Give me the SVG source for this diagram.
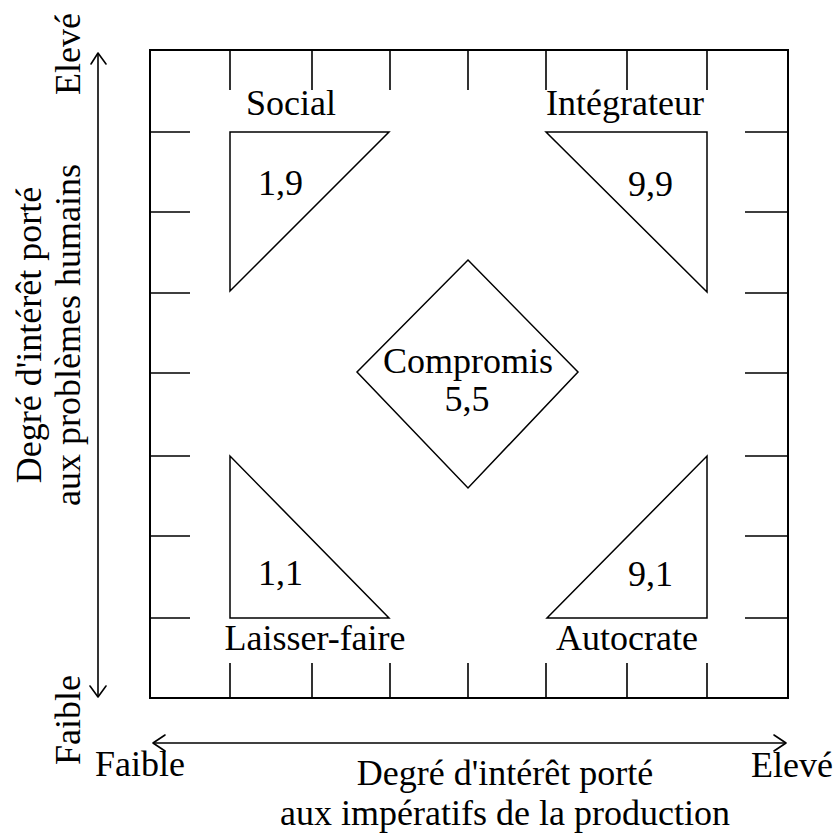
<svg xmlns="http://www.w3.org/2000/svg" width="838" height="835" viewBox="0 0 838 835">
<style>
  .t { font-family: "Liberation Serif", "Times New Roman", serif; font-size: 36px; fill: #000; }
  .m { text-anchor: middle; }
  .ln { stroke: #000; stroke-width: 1.6; fill: none; }
  .frame { stroke: #000; stroke-width: 2; fill: none; }
  .shape { stroke: #000; stroke-width: 1.5; fill: #fff; stroke-linejoin: miter; }
  .arr { stroke: #000; stroke-width: 1.6; fill: none; stroke-linecap: round; stroke-linejoin: round; }
</style>
<rect width="838" height="835" fill="#fff"/>

<g id="grid">
  <rect class="frame" x="150" y="50" width="638" height="648"/>
  <g class="ln">
    <path d="M230 50V90M312 50V90M390 50V90M468 50V90M546 50V90M627 50V90M707 50V90"/>
    <path d="M230 663V698M312 663V698M390 663V698M468 663V698M546 663V698M627 663V698M707 663V698"/>
    <path d="M150 132H190M150 212H190M150 293H190M150 373H190M150 456H190M150 536H190M150 618H190"/>
    <path d="M745 132H788M745 212H788M745 293H788M745 373H788M745 456H788M745 536H788M745 618H788"/>
  </g>
</g>

<g id="connectors">
  <g id="axis-y">
    <line class="ln" x1="98" y1="53" x2="98" y2="697"/>
    <path class="arr" d="M91 64L98 53L106 64"/>
    <path class="arr" d="M90 686L98 697L106 686"/>
  </g>
  <g id="axis-x">
    <line class="ln" x1="153" y1="743" x2="786" y2="743"/>
    <path class="arr" d="M165 735L153 743L165 751"/>
    <path class="arr" d="M774 735L786 743L774 751"/>
  </g>
</g>

<g id="node-social">
  <polygon class="shape" points="230,132 389,132 230,291"/>
  <text class="t m" x="291" y="115">Social</text>
  <text class="t" x="258" y="195">1,9</text>
</g>

<g id="node-integrateur">
  <polygon class="shape" points="546,132 707,132 707,292"/>
  <text class="t m" x="625" y="115">Intégrateur</text>
  <text class="t" x="628" y="196">9,9</text>
</g>

<g id="node-compromis">
  <polygon class="shape" points="468,260 578,372 468,488 357,372"/>
  <text class="t m" x="468" y="373">Compromis</text>
  <text class="t m" x="467" y="411">5,5</text>
</g>

<g id="node-laisser-faire">
  <polygon class="shape" points="230,456 230,618 389,618"/>
  <text class="t" x="258" y="585">1,1</text>
  <text class="t m" x="315" y="650">Laisser-faire</text>
</g>

<g id="node-autocrate">
  <polygon class="shape" points="707,456 707,618 547,618"/>
  <text class="t" x="628" y="586">9,1</text>
  <text class="t m" x="627" y="650">Autocrate</text>
</g>

<g id="labels">
  <text class="t m" transform="translate(80,54) rotate(-90)">Elevé</text>
  <text class="t m" transform="translate(80,720) rotate(-90)">Faible</text>
  <text class="t m" transform="translate(41,335) rotate(-90)">Degré d'intérêt porté</text>
  <text class="t m" transform="translate(80,335) rotate(-90)">aux problèmes humains</text>
  <text class="t" x="95" y="776">Faible</text>
  <text class="t" x="751" y="777">Elevé</text>
  <text class="t m" x="505" y="785">Degré d'intérêt porté</text>
  <text class="t m" x="505" y="825">aux impératifs de la production</text>
</g>
</svg>
